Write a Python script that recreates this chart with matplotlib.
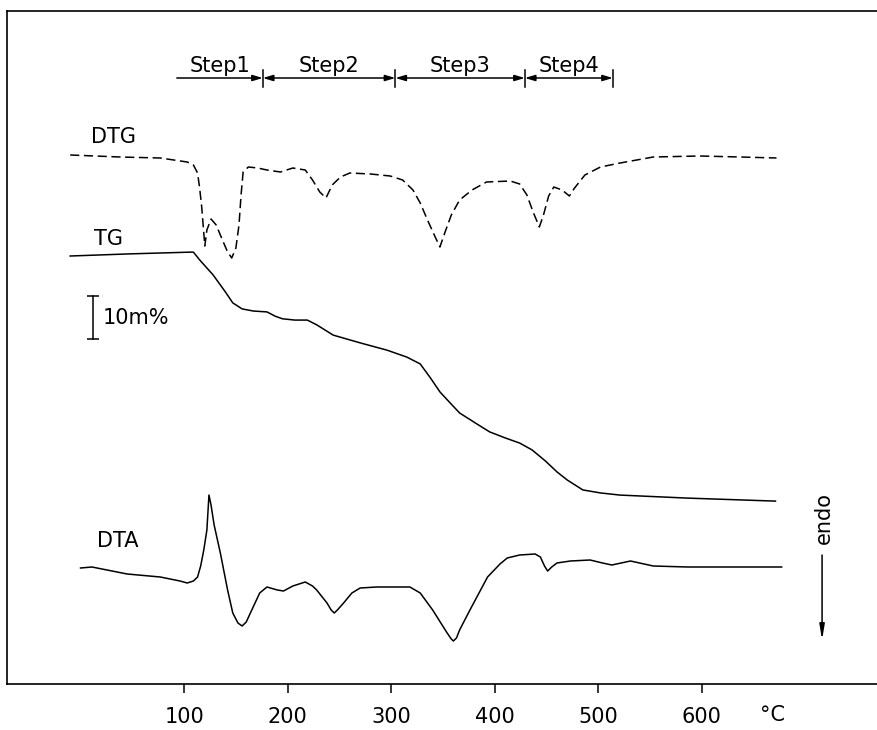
import numpy as np
import matplotlib
matplotlib.use("Agg")
import matplotlib.pyplot as plt

# values
# temperatures in deg C, TG in mass %, DTG / DTA in arbitrary chart units
tg_t = [-10, 48, 106, 109, 115, 128, 140, 147, 156, 167, 180, 188, 195, 207, 219,
        228, 244, 270, 296, 315, 328, 338, 347, 357, 366, 381, 395, 410, 424, 436,
        449, 460, 470, 485, 502, 521, 586, 671]
tg_mass = [99.3, 99.8, 100.2, 100.2, 98.4, 94.9, 90.9, 88.4, 87.0, 86.5, 86.3, 85.3,
           84.7, 84.4, 84.4, 83.3, 80.9, 79.1, 77.4, 75.8, 74.2, 70.9, 67.7, 65.1,
           62.8, 60.5, 58.4, 57.0, 55.8, 54.2, 51.6, 49.1, 47.2, 44.9, 44.2, 43.7,
           43.0, 42.3]

dtg_t = [-10, 38, 77, 103, 109, 113, 115, 117, 120, 122, 126, 131, 137, 142, 146,
         150, 153, 155, 157, 162, 171, 180, 193, 205, 217, 224, 231, 237, 243, 251,
         260, 280, 299, 311, 321, 328, 335, 342, 347, 352, 358, 366, 378, 392, 415,
         424, 431, 437, 443, 447, 452, 457, 465, 472, 477, 487, 502, 521, 553, 598,
         637, 672]
dtg_y = [529, 527, 526, 522, 519, 511, 496, 477, 438, 454, 465, 459, 444, 432, 426,
         436, 459, 489, 512, 517, 516, 514, 512, 516, 514, 504, 492, 486, 499, 507,
         511, 510, 508, 504, 494, 481, 464, 448, 437, 452, 469, 484, 494, 502, 503,
         500, 489, 472, 457, 469, 488, 497, 494, 488, 496, 509, 517, 521, 527, 528,
         527, 526]

dta_t = [0, 11, 45, 77, 96, 103, 109, 113, 116, 119, 122, 124, 126, 129, 135, 142,
         147, 152, 156, 160, 164, 173, 180, 190, 196, 205, 217, 224, 228, 238, 242,
         245, 248, 254, 262, 270, 286, 318, 328, 340, 354, 358, 360, 363, 366, 376,
         393, 405, 412, 424, 439, 444, 448, 451, 455, 460, 473, 492, 504, 513, 531,
         553, 586, 677]
dta_y = [116, 117, 110, 107, 103, 101, 103, 107, 118, 134, 154, 189, 179, 159, 131,
         94, 71, 61, 58, 62, 71, 91, 97, 94, 93, 98, 102, 98, 94, 81, 74, 71, 74, 81,
         91, 96, 97, 97, 91, 74, 51, 45, 43, 46, 54, 74, 107, 120, 126, 129, 130, 127,
         118, 113, 117, 121, 123, 124, 121, 119, 123, 118, 117, 117]

step_names = ["Step1", "Step2", "Step3", "Step4"]
step_bounds = [93, 176, 304, 429, 514]
xticks = [100, 200, 300, 400, 500, 600]

# TG is placed on the chart: 100 m% at TG_TOP, 4.3 chart units per m%
TG_TOP = 431
PER_PCT = 4.3
scale_pct = 10

plt.rcParams["font.family"] = ["DejaVu Sans"]
fs = 15
lw = 1.1

fig = plt.figure(figsize=(8.78, 7.30), dpi=100)
ax = fig.add_axes([7 / 878, 46 / 730, 871 / 878, 673 / 730])
ax.set_xlim(-71, 770)
ax.set_ylim(0, 673)

tg_y = TG_TOP + (np.array(tg_mass) - 100) * PER_PCT
ax.plot(tg_t, tg_y, color="black", lw=lw)
ax.plot(dtg_t, dtg_y, color="black", lw=lw, linestyle=(0, (6, 3)))
ax.plot(dta_t, dta_y, color="black", lw=lw)

ax.text(32, 547, "DTG", fontsize=fs, ha="center", va="center")
ax.text(27, 445, "TG", fontsize=fs, ha="center", va="center")
ax.text(36, 143, "DTA", fontsize=fs, ha="center", va="center")

# 10 m% scale bar
bar_bottom = 345
ax.plot([12, 12], [bar_bottom, bar_bottom + scale_pct * PER_PCT], color="black",
        lw=lw, marker="_", markersize=9, markeredgewidth=lw)
ax.text(21, bar_bottom + scale_pct * PER_PCT / 2, "10m%", fontsize=fs,
        ha="left", va="center")

# decomposition steps bar
ybar = 606
for i, name in enumerate(step_names):
    a, b = step_bounds[i], step_bounds[i + 1]
    style = "-|>" if i == 0 else "<|-|>"
    ax.annotate("", xy=(b, ybar), xytext=(a, ybar),
                arrowprops=dict(arrowstyle=style + ",head_length=0.6,head_width=0.18",
                                color="black", lw=lw, shrinkA=0, shrinkB=0))
    ax.text((a + b) / 2, ybar + 2, name, fontsize=fs, ha="center", va="bottom")
for b in step_bounds[1:]:
    ax.plot([b, b], [ybar - 9, ybar + 8], color="black", lw=lw)

# endo arrow
ax.annotate("", xy=(716, 44), xytext=(716, 129),
            arrowprops=dict(arrowstyle="-|>,head_length=0.9,head_width=0.15",
                            color="black", lw=lw, shrinkA=0, shrinkB=0))
ax.text(718, 166, "endo", fontsize=fs, rotation=90, ha="center", va="center")

ax.set_xticks(xticks)
ax.set_xticklabels([str(t) for t in xticks], fontsize=fs)
ax.tick_params(axis="x", direction="out", length=6.5, width=lw, pad=10)
ax.set_yticks([])
ax.text(656, -31, "°C", fontsize=fs, ha="left", va="center", clip_on=False)

for side in ["left", "top", "bottom"]:
    ax.spines[side].set_linewidth(1.2)
ax.spines["right"].set_visible(False)

fig.savefig("out.png", dpi=100)
